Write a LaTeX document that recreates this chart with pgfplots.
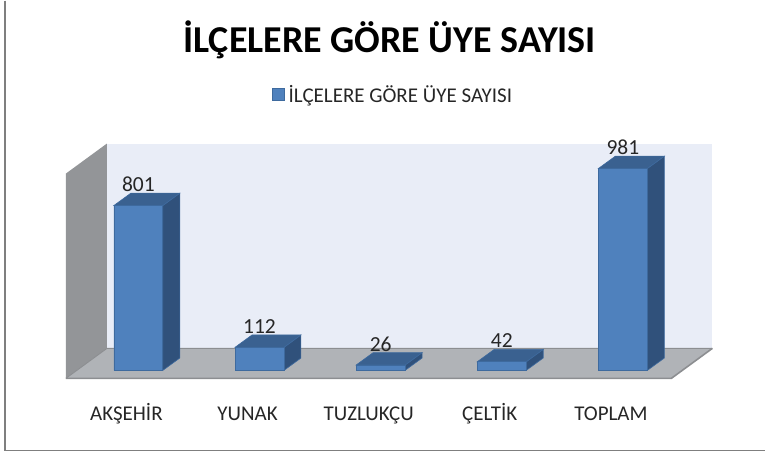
\documentclass[border=0pt]{standalone}
\usepackage{pgfplots}
\usepackage{fontspec}
\setmainfont{Carlito}
\pgfplotsset{compat=1.18}

\definecolor{barfront}{HTML}{4F81BD}
\definecolor{bartop}{HTML}{3A6190}
\definecolor{barside}{HTML}{30517B}
\definecolor{baredge}{HTML}{3E6A9E}
\definecolor{backwall}{HTML}{E9EDF7}
\definecolor{sidewall}{HTML}{939598}
\definecolor{floorc}{HTML}{B0B3B7}
\definecolor{flooredge}{HTML}{8C8E91}
\definecolor{framec}{HTML}{7F7F7F}

% side and top of one bar: #1 = category position, #2 = value
\newcommand{\barfaces}[2]{
    \pgfmathsetmacro\xa{#1-0.202}
    \pgfmathsetmacro\xb{#1+0.202}
    \pgfmathsetmacro\xc{#1+0.342}
    \pgfmathsetmacro\xd{#1-0.062}
    \pgfmathsetmacro\yt{#2+60}
    \addplot[forget plot,fill=barside,draw=baredge,line width=.6pt] coordinates {(\xb,0) (\xc,60) (\xc,\yt) (\xb,#2)} -- cycle;
    \addplot[forget plot,fill=bartop,draw=baredge,line width=.6pt] coordinates {(\xa,#2) (\xd,\yt) (\xc,\yt) (\xb,#2)} -- cycle;
}

\begin{document}
\begin{tikzpicture}
    \begin{axis}[
        scale only axis,
        width=766pt,
        height=452pt,
        xmin=-1.1423, xmax=5.1753,
        ymin=-398.06, ymax=1796.1,
        axis line style={draw=none},
        tick style={draw=none},
        ytick=\empty,
        xtick={0,1,2,3,4},
        xticklabels={AKŞEHİR,YUNAK,TUZLUKÇU,ÇELTİK,TOPLAM},
        xticklabel style={anchor=base,xshift=-12pt,yshift=32pt,font=\fontsize{21}{23}\selectfont,text=black!85},
        title={\textbf{İLÇELERE GÖRE ÜYE SAYISI}},
        title style={at={(0.509,0.9005)},anchor=center,font=\fontsize{38}{40}\selectfont},
        legend style={at={(0.5135,0.792)},anchor=center,draw=none,fill=none,font=\fontsize{21}{23}\selectfont,text=black!85,inner sep=0pt,
            legend cell align=left},
        /pgf/number format/assume math mode=true,
        clip=false,
    ]
        % walls and floor
        \addplot[forget plot,fill=backwall,draw=none] coordinates {(-0.2598,106.8) (-0.2598,1102) (4.7381,1102) (4.7381,106.8)} -- cycle;
        \addplot[forget plot,fill=sidewall,draw=none] coordinates {(-0.598,-38.8) (-0.2598,106.8) (-0.2598,1102) (-0.598,956.3)} -- cycle;
        \addplot[forget plot,fill=floorc,draw=none] coordinates {(-0.598,-38.8) (-0.2598,106.8) (4.7381,106.8) (4.4,-38.8)} -- cycle;
        \addplot[forget plot,draw=flooredge,line width=1.6pt] coordinates {(-0.598,-38.8) (4.4,-38.8) (4.7381,106.8)};
        \addplot[forget plot,draw=flooredge,line width=.9pt] coordinates {(-0.598,-38.8) (-0.2598,106.8) (4.7381,106.8)};

        \barfaces{0}{801}
        \barfaces{1}{112}
        \barfaces{2}{26}
        \barfaces{3}{42}
        \barfaces{4}{981}

        \addplot[
            ybar,
            bar width=49pt,
            bar shift=0pt,
            fill=barfront,
            draw=baredge,
            line width=.8pt,
            nodes near coords,
            every node near coord/.append style={anchor=center,yshift=21pt,font=\fontsize{21.5}{23}\selectfont,text=black!85},
            legend image code/.code={\draw[fill=barfront,draw=baredge,line width=.8pt] (0pt,-6pt) rectangle (12pt,6pt); \path (14pt,0pt);},
        ] coordinates {(0,801) (1,112) (2,26) (3,42) (4,981)};
        \addlegendentry{İLÇELERE GÖRE ÜYE SAYISI}

        % outer frame of the slide picture
        \draw[framec,line width=1.4pt] (rel axis cs:0.0065,1) -- (rel axis cs:0.0065,0.0044) -- (rel axis cs:1,0.0044);
    \end{axis}
\end{tikzpicture}
\end{document}
